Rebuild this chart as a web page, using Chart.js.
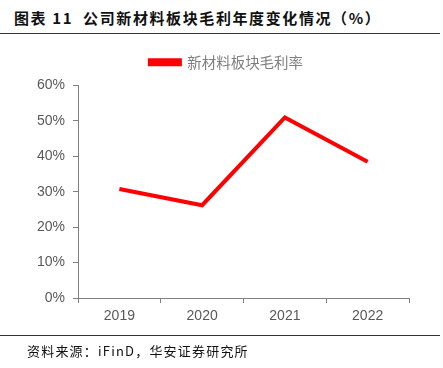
<!DOCTYPE html>
<html><head><meta charset="utf-8">
<script src="https://cdn.jsdelivr.net/npm/chart.js@4/dist/chart.umd.min.js"></script>
<style>
html,body{margin:0;padding:0;background:#fff;width:443px;height:368px;overflow:hidden;}
#wrap{position:relative;width:443px;height:368px;}
#title{position:absolute;left:14px;top:7px;font-family:"Noto Sans CJK SC";font-weight:bold;font-size:15px;color:#111;white-space:nowrap;letter-spacing:1.6px;}
#tline{position:absolute;left:0;top:33px;width:440px;height:1px;background:#333;}
#bline{position:absolute;left:0;top:335px;width:440px;height:1px;background:#333;}
#foot{position:absolute;left:27px;top:341px;font-family:"Noto Sans CJK SC";font-size:13px;color:#111;white-space:nowrap;letter-spacing:1.2px;}
canvas{position:absolute;left:0;top:0;}
</style></head>
<body><div id="wrap">
<div id="title">图表 11&nbsp; 公司新材料板块毛利年度变化情况（%）</div>
<div id="tline"></div>
<canvas id="c" width="443" height="368"></canvas>
<div id="bline"></div>
<div id="foot">资料来源：iFinD，华安证券研究所</div>
</div>
<script>
const categories = ["2019","2020","2021","2022"];
const seriesName = "新材料板块毛利率";
const values = [30.8, 26.2, 51.0, 38.5];
const yTicks = [0,10,20,30,40,50,60];

const legendTweak = {
  id: 'legendTweak',
  beforeUpdate(chart) {
    const lg = chart.legend;
    if (lg && !lg._tweaked) {
      const f = lg.fit;
      lg.fit = function () { f.call(this); this.height += 6; };
      lg._tweaked = true;
    }
  },
  afterLayout(chart) {
    const lg = chart.legend;
    if (lg) { lg.left += 22; lg.right += 22; }
  }
};

new Chart(document.getElementById('c'), {
  type: 'line',
  data: { labels: categories, datasets: [{ label: seriesName, data: values, borderColor: '#ff0000', backgroundColor: '#ff0000', borderWidth: 4, pointRadius: 0, tension: 0, fill: false }] },
  options: {
    responsive: false, animation: false,
    layout: { padding: { left: 0, right: 34, top: 43, bottom: 40 } },
    plugins: {
      legend: { display: true, position: 'top', labels: { boxWidth: 30, boxHeight: 4, color: '#7f7f7f', font: { family: '"Noto Sans CJK SC"', size: 14.5 }, padding: 12 } },
      tooltip: { enabled: false }
    },
    scales: {
      x: {
        offset: true,
        grid: { display: true, drawOnChartArea: false, offset: true, color: '#808080', tickLength: 5, tickColor: '#808080' },
        border: { color: '#808080', width: 1 },
        ticks: { color: '#595959', font: { family: '"Liberation Sans"', size: 14 }, padding: 5 },
        afterFit: s => { s.height = 30; }
      },
      y: {
        min: 0, max: 60,
        afterBuildTicks: s => { s.ticks = yTicks.map(v => ({ value: v })); },
        grid: { display: true, drawOnChartArea: false, color: '#808080', tickLength: 5, tickColor: '#808080' },
        border: { color: '#808080', width: 1 },
        ticks: { color: '#595959', font: { family: '"Liberation Sans"', size: 14 }, padding: 8, callback: v => v + '%' },
        afterFit: s => { s.width = 78; }
      }
    }
  },
  plugins: [legendTweak]
});
</script>
</body></html>
